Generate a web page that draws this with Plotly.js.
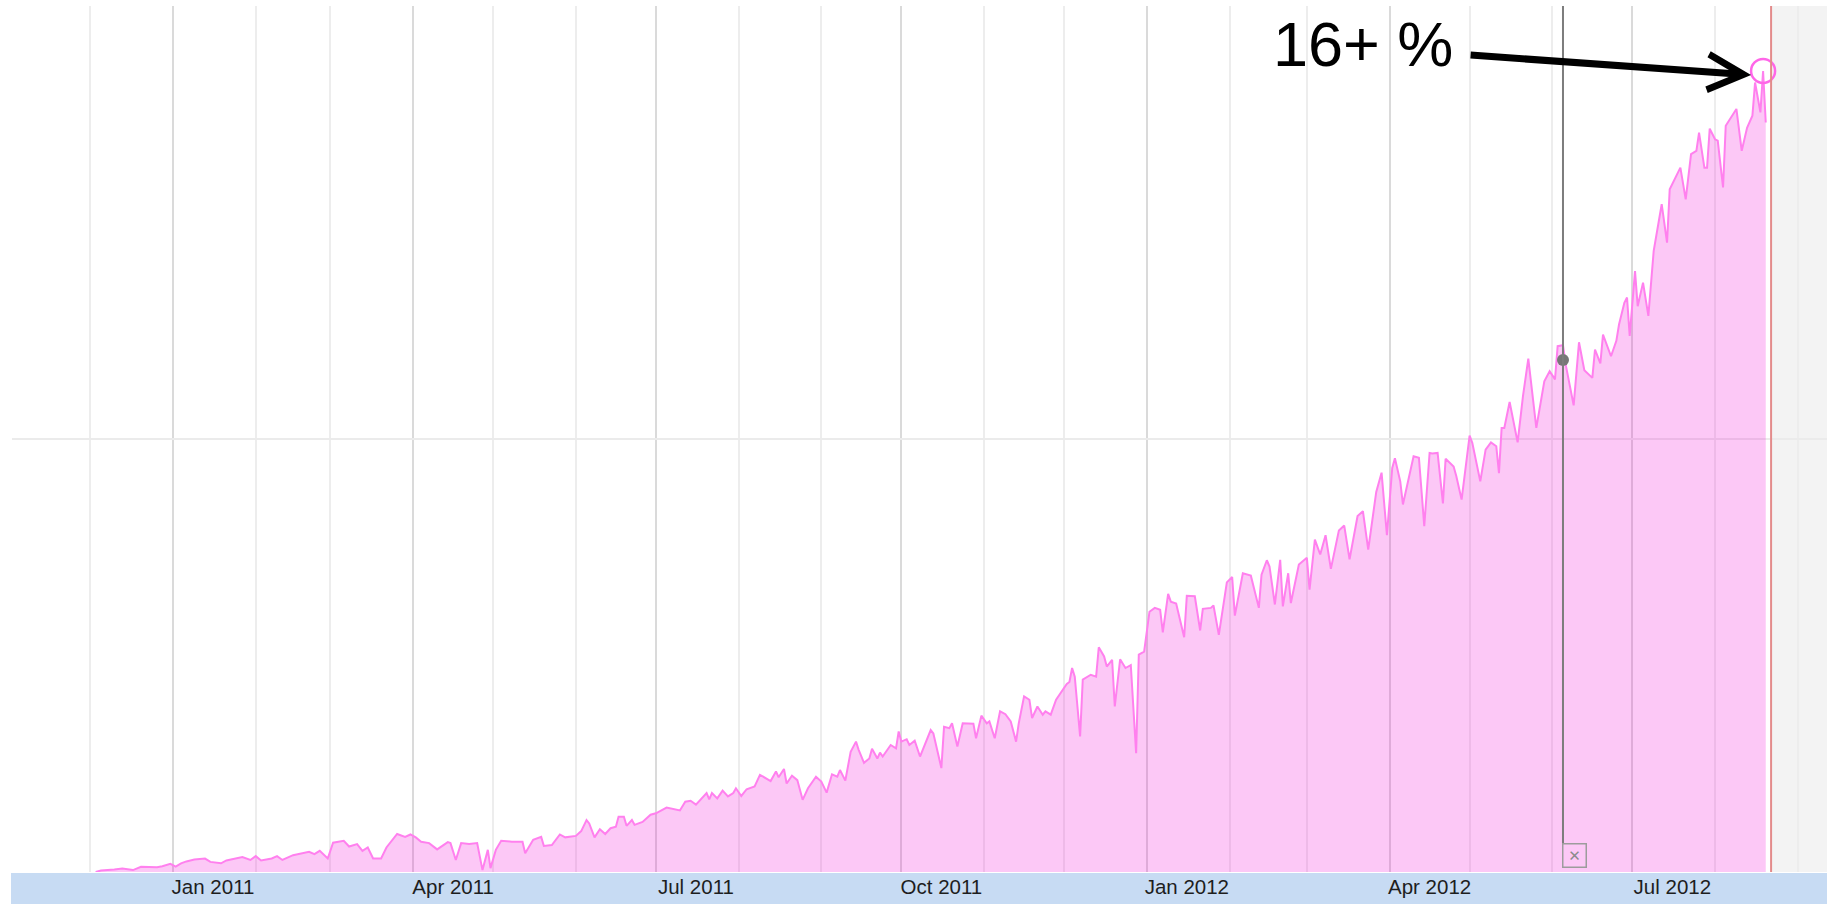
<!DOCTYPE html>
<html><head><meta charset="utf-8">
<script src="https://cdn.plot.ly/plotly-3.0.1.min.js"></script>
<style>html,body{margin:0;padding:0;background:#fff;overflow:hidden}#chart{width:1827px;height:904px}</style>
</head><body><div id="chart"></div>
<script>
// ---- data (share, %) ----
const dates = [
'2010-12-03','2010-12-05','2010-12-10','2010-12-13','2010-12-17','2010-12-20','2010-12-26','2010-12-28','2010-12-31',
'2011-01-02','2011-01-04','2011-01-06','2011-01-09','2011-01-13','2011-01-15','2011-01-19','2011-01-21','2011-01-25','2011-01-27','2011-01-30',
'2011-02-01','2011-02-03','2011-02-07','2011-02-09','2011-02-11','2011-02-15','2011-02-18','2011-02-21','2011-02-23','2011-02-25','2011-02-28',
'2011-03-02','2011-03-06','2011-03-08','2011-03-11','2011-03-13','2011-03-15','2011-03-17','2011-03-20','2011-03-22','2011-03-26','2011-03-29','2011-03-31',
'2011-04-02','2011-04-04','2011-04-07','2011-04-10','2011-04-14','2011-04-15','2011-04-17','2011-04-19','2011-04-22','2011-04-25','2011-04-27','2011-04-29','2011-04-30',
'2011-05-02','2011-05-04','2011-05-08','2011-05-12','2011-05-13','2011-05-16','2011-05-19','2011-05-20','2011-05-23','2011-05-26','2011-05-28',
'2011-06-01','2011-06-03','2011-06-05','2011-06-06','2011-06-08','2011-06-10','2011-06-12','2011-06-14','2011-06-16','2011-06-17','2011-06-19','2011-06-20','2011-06-22','2011-06-23','2011-06-26','2011-06-29',
'2011-07-01','2011-07-05','2011-07-07','2011-07-10','2011-07-12','2011-07-14','2011-07-16','2011-07-20','2011-07-21','2011-07-22','2011-07-24','2011-07-26','2011-07-28','2011-07-30','2011-07-31',
'2011-08-02','2011-08-04','2011-08-07','2011-08-09','2011-08-11','2011-08-13','2011-08-15','2011-08-16','2011-08-18','2011-08-19','2011-08-21','2011-08-23','2011-08-25','2011-08-27','2011-08-30',
'2011-09-01','2011-09-03','2011-09-05','2011-09-07','2011-09-08','2011-09-10','2011-09-12','2011-09-14','2011-09-15','2011-09-17','2011-09-19','2011-09-20','2011-09-22','2011-09-23','2011-09-24','2011-09-27','2011-09-29','2011-09-30',
'2011-10-01','2011-10-03','2011-10-04','2011-10-06','2011-10-08','2011-10-12','2011-10-13','2011-10-16','2011-10-17','2011-10-19','2011-10-20','2011-10-22','2011-10-24','2011-10-28','2011-10-29','2011-10-31',
'2011-11-02','2011-11-03','2011-11-05','2011-11-07','2011-11-09','2011-11-11','2011-11-13','2011-11-14','2011-11-16','2011-11-18','2011-11-19','2011-11-21','2011-11-23','2011-11-24','2011-11-26','2011-11-28','2011-11-30',
'2011-12-02','2011-12-03','2011-12-04','2011-12-05','2011-12-07','2011-12-08','2011-12-11','2011-12-13','2011-12-14','2011-12-16','2011-12-17','2011-12-19','2011-12-20','2011-12-22','2011-12-24','2011-12-26','2011-12-28','2011-12-29','2011-12-31',
'2012-01-02','2012-01-04','2012-01-06','2012-01-07','2012-01-09','2012-01-10','2012-01-12','2012-01-15','2012-01-16','2012-01-19','2012-01-21','2012-01-22','2012-01-25','2012-01-26','2012-01-28','2012-01-31',
'2012-02-02','2012-02-03','2012-02-06','2012-02-09','2012-02-12','2012-02-13','2012-02-15','2012-02-16','2012-02-18','2012-02-20','2012-02-21','2012-02-23','2012-02-24','2012-02-27',
'2012-03-01','2012-03-02','2012-03-04','2012-03-06','2012-03-08','2012-03-10','2012-03-13','2012-03-15','2012-03-17','2012-03-20','2012-03-22','2012-03-24','2012-03-27','2012-03-29','2012-03-31',
'2012-04-02','2012-04-03','2012-04-05','2012-04-06','2012-04-09','2012-04-10','2012-04-12','2012-04-14','2012-04-16','2012-04-17','2012-04-19','2012-04-21','2012-04-22','2012-04-25','2012-04-26','2012-04-28',
'2012-05-01','2012-05-02','2012-05-05','2012-05-07','2012-05-09','2012-05-11','2012-05-12','2012-05-13','2012-05-14','2012-05-16','2012-05-19','2012-05-21','2012-05-23','2012-05-26','2012-05-29','2012-05-30','2012-05-31',
'2012-06-02','2012-06-03','2012-06-05','2012-06-06','2012-06-09','2012-06-11','2012-06-13','2012-06-16','2012-06-17','2012-06-19','2012-06-20','2012-06-23','2012-06-25','2012-06-26','2012-06-28','2012-06-29','2012-06-30',
'2012-07-02','2012-07-03','2012-07-05','2012-07-07','2012-07-09','2012-07-12','2012-07-14','2012-07-15','2012-07-19','2012-07-21','2012-07-23','2012-07-25','2012-07-26','2012-07-28','2012-07-29','2012-07-30',
'2012-08-01','2012-08-02','2012-08-04','2012-08-05','2012-08-07','2012-08-09','2012-08-11','2012-08-13','2012-08-15','2012-08-16','2012-08-18','2012-08-19','2012-08-20'
];
const values = [
0.00,0.03,0.05,0.07,0.04,0.11,0.10,0.12,0.17,
0.11,0.18,0.22,0.26,0.28,0.21,0.18,0.24,0.28,0.31,0.25,
0.33,0.24,0.28,0.33,0.25,0.35,0.39,0.42,0.37,0.44,0.28,
0.61,0.65,0.53,0.58,0.44,0.51,0.28,0.28,0.51,0.79,0.73,0.78,
0.72,0.63,0.60,0.47,0.62,0.60,0.25,0.60,0.58,0.60,0.04,0.46,0.08,
0.46,0.65,0.63,0.63,0.39,0.67,0.73,0.54,0.56,0.78,0.72,
0.75,0.85,1.08,1.01,0.72,0.89,0.79,0.91,0.94,1.15,1.15,0.96,1.08,0.98,1.04,1.19,
1.22,1.34,1.32,1.28,1.46,1.48,1.40,1.64,1.51,1.64,1.53,1.69,1.57,1.64,1.74,
1.58,1.72,1.78,2.02,1.95,1.89,2.09,1.97,2.14,1.84,2.00,1.91,1.50,1.74,1.98,
1.88,1.65,2.03,1.98,2.12,1.90,2.50,2.71,2.54,2.27,2.36,2.56,2.36,2.48,2.40,2.64,2.57,2.92,
2.71,2.76,2.64,2.73,2.40,2.95,2.88,2.16,3.02,2.99,3.09,2.61,3.09,3.08,2.78,3.25,
3.09,3.13,2.78,3.34,3.28,3.13,2.71,3.09,3.65,3.58,3.20,3.44,3.27,3.34,3.27,3.58,3.75,
3.91,3.95,4.24,4.06,2.82,4.00,4.10,4.06,4.67,4.48,4.27,4.41,3.44,4.42,4.24,4.30,2.47,4.52,4.58,
5.41,5.49,5.45,4.98,5.78,5.62,5.58,4.88,5.74,5.73,5.02,5.47,5.49,5.54,4.93,6.02,
6.13,5.33,6.21,6.16,5.49,6.18,6.48,6.35,5.56,6.49,5.52,6.21,5.59,6.39,
6.53,5.87,6.91,6.60,7.00,6.30,7.10,7.20,6.50,7.40,7.50,6.70,7.90,8.30,7.00,
8.40,8.60,8.12,7.64,8.40,8.64,8.61,7.19,8.71,8.70,8.71,7.66,8.59,8.43,8.23,7.74,
9.07,8.92,8.12,8.78,8.93,8.85,8.29,9.23,9.23,9.77,8.93,9.89,10.67,9.23,10.20,10.31,10.41,
10.24,10.93,10.95,10.55,9.70,11.01,10.43,10.27,10.86,10.57,11.17,10.72,11.04,11.38,11.83,11.94,11.14,
12.49,11.76,12.25,11.56,12.91,13.88,13.08,14.19,14.64,13.98,14.92,14.99,15.37,14.64,14.64,15.45,
15.23,15.20,14.23,15.51,15.68,15.86,14.99,15.47,15.72,16.41,15.79,16.65,15.58
];
// axis labels (quarter names, placed mid-month)
const labelDates = ['2011-01-16','2011-04-16','2011-07-16','2011-10-16','2012-01-16','2012-04-16','2012-07-16'];
const labelText  = ['Jan 2011','Apr 2011','Jul 2011','Oct 2011','Jan 2012','Apr 2012','Jul 2012'];
const quarterStarts = ['2010-10-01','2011-01-01','2011-04-01','2011-07-01','2011-10-01','2012-01-01','2012-04-01','2012-07-01','2012-10-01'];
const xRange = ['2010-11-01 15:30','2012-09-11 23:00'];
const yRange = [0, 18];
const yGrid = [9];
// annotation marker (grey line + dot) and "today" line
const noteDate = '2012-06-05';
const noteValue = 10.64;
const todayDate = '2012-08-22';
const calloutText = '16+ %';

// ---- chart ----
let peakIdx = 0;
values.forEach((v, i) => { if (v > values[peakIdx]) peakIdx = i; });
const peakDate = dates[peakIdx], peakValue = values[peakIdx];

const FONT = 'Liberation Sans, Arial, sans-serif';

const traces = [
  {type:'scatter', mode:'lines', x:dates, y:values, fill:'tozeroy',
   fillcolor:'rgba(241,0,213,0.215)', line:{color:'#ff80ee', width:2}, hoverinfo:'skip'},
  {type:'scatter', mode:'markers', x:[peakDate], y:[peakValue],
   marker:{symbol:'circle-open', size:24, color:'#ff66e8', line:{width:2.5}}, hoverinfo:'skip'},
  {type:'scatter', mode:'markers', x:[noteDate], y:[noteValue], xaxis:'x2',
   marker:{size:12, color:'#777777'}, hoverinfo:'skip'}
];

const PH = 904 - 6 - 32; // plot height in px
const layout = {
  width:1827, height:904,
  margin:{l:12, r:0, t:6, b:32, pad:0},
  paper_bgcolor:'#ffffff', plot_bgcolor:'rgba(0,0,0,0)',
  showlegend:false,
  xaxis:{type:'date', range:xRange, tickmode:'array', tickvals:quarterStarts,
    showticklabels:false, ticks:'', showgrid:true, gridcolor:'#dadada', gridwidth:2,
    minor:{tick0:'2010-11-01', dtick:'M1', showgrid:true, gridcolor:'#ededed', gridwidth:2, ticks:''},
    zeroline:false, showline:false, fixedrange:true},
  xaxis2:{type:'date', overlaying:'x', anchor:'y', side:'bottom', range:xRange,
    tickmode:'array', tickvals:labelDates, ticktext:labelText, showgrid:false, ticks:'',
    zeroline:false, showline:false, tickfont:{family:FONT, size:20.5, color:'#1e1e1e'}, fixedrange:true},
  yaxis:{range:yRange, tickmode:'array', tickvals:yGrid, showticklabels:false, ticks:'',
    showgrid:true, gridcolor:'#ebebeb', gridwidth:2, zeroline:false, showline:false, fixedrange:true},
  shapes:[
    {type:'rect', xref:'paper', yref:'paper', x0:-1/1815, x1:1, y0:-32/PH, y1:-1/PH,
     fillcolor:'#c7dbf3', line:{width:0}, layer:'below'},
    {type:'rect', xref:'x', yref:'paper', x0:todayDate, x1:xRange[1], y0:0, y1:1,
     fillcolor:'#f3f3f3', line:{width:0}, layer:'below'},
    {type:'line', xref:'x', yref:'paper', x0:todayDate, x1:todayDate, y0:0, y1:1,
     line:{color:'#e38b8b', width:2}},
    {type:'line', xref:'x', yref:'paper', x0:noteDate, x1:noteDate, y0:29/PH, y1:1,
     line:{color:'#7d7d7d', width:2}}
  ],
  annotations:[
    {xref:'x', yref:'y', x:peakDate, y:peakValue, text:calloutText, showarrow:false,
     xanchor:'right', yanchor:'middle', xshift:-308, yshift:27,
     font:{family:FONT, size:63, color:'#000000'}},
    {xref:'x', yref:'y', x:peakDate, y:peakValue, text:'', showarrow:true, yshift:-5,
     ax:-294, ay:-21, arrowhead:5, arrowsize:1.0, arrowwidth:7, arrowcolor:'#000000', standoff:12},
    {xref:'x', yref:'paper', x:noteDate, y:16.5/PH, text:'✕', showarrow:false,
     xanchor:'left', yanchor:'middle', xshift:-1, width:20, height:20, borderpad:1,
     bordercolor:'#9c9c9c', borderwidth:1.5, font:{family:'DejaVu Sans, Liberation Sans', size:15, color:'#8c8c8c'}}
  ]
};

Plotly.newPlot('chart', traces, layout, {staticPlot:true, displayModeBar:false});
</script>
</body></html>
